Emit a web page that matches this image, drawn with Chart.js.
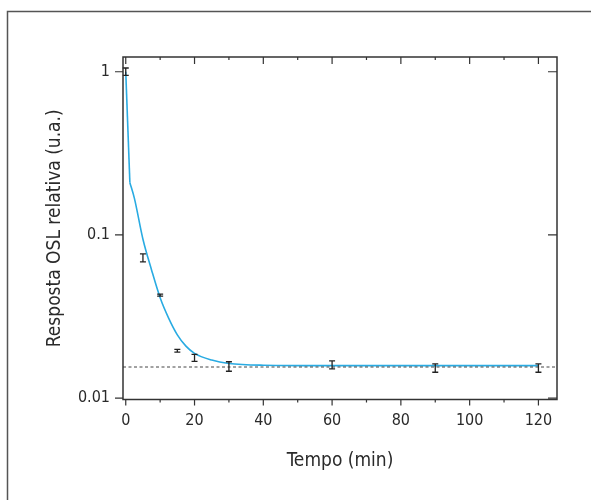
<!DOCTYPE html>
<html>
<head>
<meta charset="utf-8">
<script src="https://cdn.jsdelivr.net/npm/chart.js@4/dist/chart.umd.min.js"></script>
<style>
  html, body { margin: 0; padding: 0; background: #fff; }
  #wrap { width: 591px; height: 500px; position: relative; }
</style>
</head>
<body>
<div id="wrap"><canvas id="grafico" width="591" height="500"></canvas></div>
<script>
// pontos medidos (tempo em min) e barras de erro
var tempos = [0, 5, 10, 15, 20, 30, 60, 90, 120]
var resposta = [1.0, 0.0722, 0.0428, 0.0195, 0.0177, 0.0156, 0.0160, 0.0153, 0.0153]
var erroMin = [0.949, 0.0683, 0.0422, 0.0191, 0.0168, 0.0146, 0.0151, 0.0144, 0.0144]
var erroMax = [1.054, 0.0764, 0.0434, 0.0199, 0.0185, 0.0167, 0.0169, 0.0162, 0.0162]

// curva ajustada
var ajusteX = [0, 1.2, 2.5, 5, 7.5, 10, 12.5, 15, 17.5, 20, 25, 30, 40, 60, 80, 100, 120]
var ajusteY = [1.0, 0.209, 0.168, 0.094, 0.061, 0.0412, 0.0308, 0.0244, 0.0208, 0.0188, 0.0171, 0.0163, 0.0159, 0.0158, 0.0158, 0.0158, 0.0158]

// nivel de fundo (linha tracejada)
var nivelFundo = 0.0155

var ticksX = [0, 20, 40, 60, 80, 100, 120]
var ticksXMenores = [10, 30, 50, 70, 90, 110]
var ticksY = [0.01, 0.1, 1]

var fonte = '"DejaVu Sans Condensed", "Liberation Sans Narrow", sans-serif'
var corTexto = '#2a2a2a'
var corEixo = '#333'

const extras = {
    id: 'extras',
    beforeDraw(chart) {
        const ctx = chart.ctx
        ctx.save()
        // moldura externa
        ctx.lineWidth = 1.5
        ctx.strokeStyle = '#555'
        ctx.beginPath()
        ctx.moveTo(7.5, 500)
        ctx.lineTo(7.5, 11.5)
        ctx.lineTo(591, 11.5)
        ctx.stroke()
        ctx.restore()
    },
    afterDatasetsDraw(chart) {
        const ctx = chart.ctx
        const area = chart.chartArea
        const sx = chart.scales.x
        const sy = chart.scales.y
        ctx.save()

        // linha tracejada do fundo
        const yf = sy.getPixelForValue(nivelFundo)
        ctx.strokeStyle = '#444'
        ctx.lineWidth = 1
        ctx.setLineDash([3, 2.5])
        ctx.beginPath()
        ctx.moveTo(area.left, yf)
        ctx.lineTo(area.right, yf)
        ctx.stroke()
        ctx.setLineDash([])

        // barras de erro
        ctx.strokeStyle = '#222'
        ctx.lineWidth = 1.3
        for (let i = 0; i < tempos.length; i++) {
            const px = sx.getPixelForValue(tempos[i])
            const y1 = sy.getPixelForValue(erroMin[i])
            const y2 = sy.getPixelForValue(erroMax[i])
            ctx.beginPath()
            ctx.moveTo(px, y1)
            ctx.lineTo(px, y2)
            ctx.moveTo(px - 3, y1)
            ctx.lineTo(px + 3, y1)
            ctx.moveTo(px - 3, y2)
            ctx.lineTo(px + 3, y2)
            ctx.stroke()
        }

        // caixa do grafico
        ctx.strokeStyle = corEixo
        ctx.lineWidth = 1.5
        ctx.strokeRect(area.left, area.top, area.right - area.left, area.bottom - area.top)

        // marcas dos eixos
        ctx.lineWidth = 1.2
        ctx.beginPath()
        ticksX.forEach(function (v) {
            const px = sx.getPixelForValue(v)
            ctx.moveTo(px, area.bottom)
            ctx.lineTo(px, area.bottom + 6)
            ctx.moveTo(px, area.top)
            ctx.lineTo(px, area.top + 7)
        })
        ticksXMenores.forEach(function (v) {
            const px = sx.getPixelForValue(v)
            ctx.moveTo(px, area.bottom)
            ctx.lineTo(px, area.bottom + 3)
            ctx.moveTo(px, area.top)
            ctx.lineTo(px, area.top + 3)
        })
        ticksY.forEach(function (v) {
            const py = sy.getPixelForValue(v)
            ctx.moveTo(area.left - 8, py)
            ctx.lineTo(area.left, py)
            ctx.moveTo(area.right - 9, py)
            ctx.lineTo(area.right, py)
        })
        ctx.stroke()
        ctx.restore()
    }
}

function pares(xs, ys) {
    return xs.map(function (x, i) { return { x: x, y: ys[i] } })
}

const config = {
    type: 'scatter',
    data: {
        datasets: [{
            // queda inicial (segmento reto)
            label: 'Ajuste inicial',
            data: pares(ajusteX.slice(0, 2), ajusteY.slice(0, 2)),
            showLine: true,
            borderColor: '#29abe2',
            borderWidth: 1.6,
            pointRadius: 0,
            tension: 0
        }, {
            label: 'Ajuste',
            data: pares(ajusteX.slice(1), ajusteY.slice(1)),
            showLine: true,
            borderColor: '#29abe2',
            borderWidth: 1.6,
            pointRadius: 0,
            cubicInterpolationMode: 'monotone'
        }]
    },
    plugins: [extras],
    options: {
        responsive: false,
        animation: false,
        events: [],
        layout: {
            padding: { top: 57, right: 34, bottom: 23, left: 0 }
        },
        plugins: {
            legend: { display: false },
            tooltip: { enabled: false }
        },
        scales: {
            x: {
                type: 'linear',
                min: -0.8,
                max: 125.4,
                afterFit: function (s) { s.height = 77.5 },
                afterBuildTicks: function (s) {
                    s.ticks = ticksX.map(function (v) { return { value: v } })
                },
                grid: { display: false, drawTicks: true, tickLength: 7 },
                border: { display: false },
                ticks: {
                    padding: 5,
                    maxRotation: 0,
                    color: corTexto,
                    font: { family: fonte, size: 16 },
                    callback: function (v) { return String(v) }
                },
                title: {
                    display: true,
                    text: 'Tempo (min)',
                    color: corTexto,
                    font: { family: fonte, size: 19 },
                    padding: { top: 0, bottom: 5 }
                }
            },
            y: {
                type: 'logarithmic',
                min: 0.0098,
                max: 1.231,
                afterFit: function (s) { s.width = 123 },
                afterBuildTicks: function (s) {
                    s.ticks = ticksY.map(function (v) { return { value: v } })
                },
                grid: { display: false, drawTicks: true, tickLength: 8 },
                border: { display: false },
                ticks: {
                    padding: 5,
                    color: corTexto,
                    font: { family: fonte, size: 16 },
                    callback: function (v) { return String(v) }
                },
                title: {
                    display: true,
                    text: 'Resposta OSL relativa (u.a.)',
                    color: corTexto,
                    font: { family: fonte, size: 19 },
                    padding: { top: 44, bottom: 0 }
                }
            }
        }
    }
};

new Chart(document.getElementById('grafico'), config)
</script>
</body>
</html>
